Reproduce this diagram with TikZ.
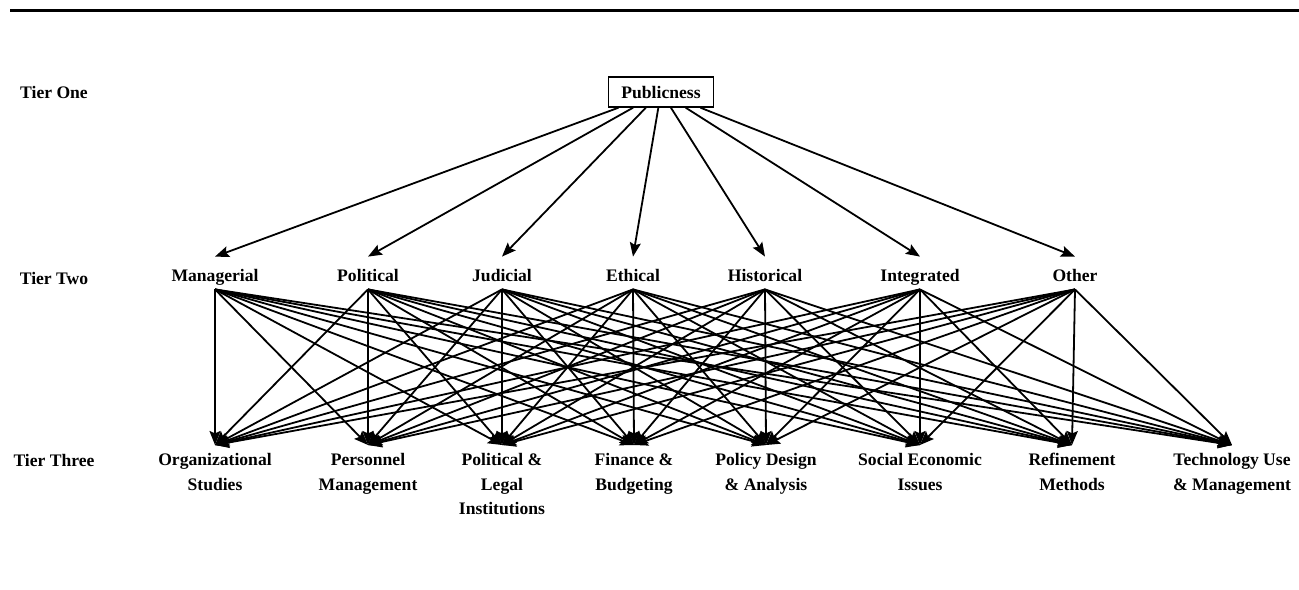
\documentclass[tikz,border=0pt]{standalone}
\usepackage{fontspec}
\setmainfont{Liberation Serif}
\usetikzlibrary{arrows.meta}

\begin{document}
\begin{tikzpicture}[
    x=0.5pt, y=-0.5pt,
    font=\fontsize{8.8}{12.25}\selectfont\bfseries,
    >={Stealth[length=7pt,width=5.5pt,inset=1.2pt]},
    tierlabel/.style={anchor=base, inner sep=0pt},
    rootnode/.style={draw, line width=0.7pt, minimum height=15pt, inner xsep=6.5pt, inner ysep=0pt},
    dimnode/.style={anchor=base, text height=10.5pt, text depth=2.5pt, inner xsep=1pt, inner ysep=1.5pt},
    fieldnode/.style={anchor=north, align=center, inner xsep=1pt, inner ysep=4pt},
    link/.style={->, line width=0.9pt}
  ]
    \useasboundingbox (0,0) rectangle (1299,589);
    \draw[line width=1.5pt] (10,10.5) -- (1299,10.5);

    % tiers
    \node[tierlabel] (tone) at (54,98) {Tier One};
    \node[tierlabel] (ttwo) at (54,284) {Tier Two};
    \node[tierlabel] (tthree) at (54,466) {Tier Three};

    \node[rootnode] (pub) at (661,92) {Publicness};

    \node[dimnode] (man) at (215,281) {Managerial};
    \node[dimnode] (pol) at (368,281) {Political};
    \node[dimnode] (jud) at (502,281) {Judicial};
    \node[dimnode] (eth) at (633,281) {Ethical};
    \node[dimnode] (his) at (765,281) {Historical};
    \node[dimnode] (int) at (920,281) {Integrated};
    \node[dimnode] (oth) at (1075,281) {Other};

    \node[fieldnode] (org) at (215,445) {Organizational\\Studies};
    \node[fieldnode] (per) at (368,445) {Personnel\\Management};
    \node[fieldnode] (leg) at (502,445) {Political \&\\Legal\\Institutions};
    \node[fieldnode] (fin) at (634,445) {Finance \&\\Budgeting};
    \node[fieldnode] (pda) at (766,445) {Policy Design\\\& Analysis};
    \node[fieldnode] (soc) at (920,445) {Social Economic\\Issues};
    \node[fieldnode] (ref) at (1072,445) {Refinement\\Methods};
    \node[fieldnode] (tec) at (1232,445) {Technology Use\\\& Management};

    \foreach \a in {man,pol,jud,eth,his,int,oth} {
      \draw[link] (pub) -- (\a.north);
      \foreach \b in {org,per,leg,fin,pda,soc,ref,tec}
        \draw[link] (\a.south) -- (\b.north);
    }
  \end{tikzpicture}
\end{document}
